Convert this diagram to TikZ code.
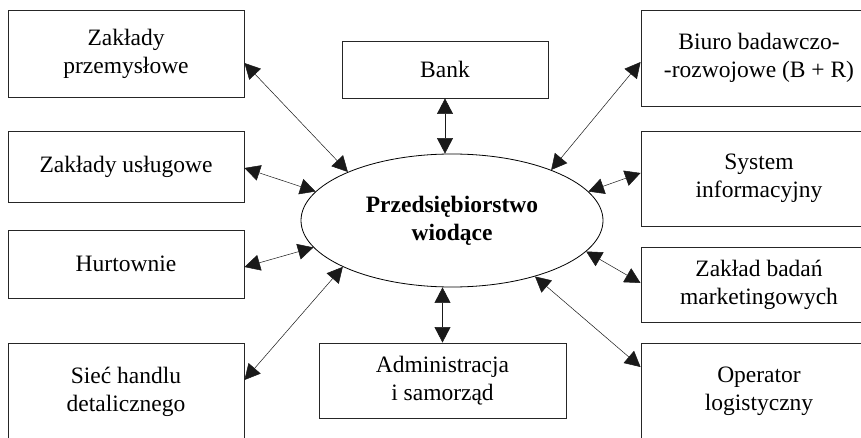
\documentclass[tikz,border=0pt]{standalone}
\usepackage{fontspec}
\setmainfont{Liberation Serif}
\usetikzlibrary{shapes.geometric,arrows.meta,calc}
\begin{document}
\begin{tikzpicture}[x=1pt,y=1pt,
  box/.style={draw=black!85,line width=0.9pt,rectangle,inner sep=0pt,align=center,
    font=\fontsize{23.5}{28}\selectfont},
  hub/.style={draw=black,line width=0.8pt,ellipse,inner sep=0pt,align=center,
    minimum width=302pt,minimum height=133pt,font=\fontsize{23.5}{28}\selectfont\bfseries},
  link/.style={line width=0.5pt,draw=black!90,{Triangle[length=15.5pt,width=16pt]}-{Triangle[length=15.5pt,width=16pt]}}
]
\useasboundingbox (0,0) rectangle (861,437);
\begin{scope}
\clip (0,0) rectangle (861,437);
\node[hub] (ell) at (452,216.5) {Przedsiębiorstwo\\wiodące};
\node[box,minimum width=236pt,minimum height=87pt] (zp) at (126,383.5) {Zakłady\\przemysłowe};
\node[box,minimum width=236pt,minimum height=71pt] (zu) at (126,270.5) {Zakłady usługowe};
\node[box,minimum width=236pt,minimum height=68pt] (hu) at (126,173) {Hurtownie};
\node[box,minimum width=236pt,minimum height=97pt] (sh) at (126,45.5) {Sieć handlu\\detalicznego};
\node[box,minimum width=236pt,minimum height=96pt] (bi) at (759,379) {Biuro badawczo-\\-rozwojowe (B + R)};
\node[box,minimum width=236pt,minimum height=95pt] (si) at (759,258.5) {System\\informacyjny};
\node[box,minimum width=236pt,minimum height=75pt] (zb) at (759,152.5) {Zakład badań\\marketingowych};
\node[box,minimum width=236pt,minimum height=97pt] (op) at (759,45.5) {Operator\\logistyczny};
\node[box,minimum width=206pt,minimum height=57pt] (bank) at (445,367.5) {Bank};
\node[box,minimum width=247pt,minimum height=75pt] (adm) at (442.5,56.5) {Administracja\\i samorząd};

\draw[link] ([yshift=-9.5pt]zp.east) -- (ell.155.1);
\draw[link] ([yshift=-1.5pt]zu.east) -- (ell.168.5);
\draw[link] ([yshift=-3pt]hu.east) -- (ell.191.9);
\draw[link] ([yshift=11.5pt]sh.east) -- (ell.203);
\draw[link] (bank.south) -- (bank.south |- ell.north);
\draw[link] (adm.north) -- (adm.north |- ell.south);
\draw[link] ([yshift=-4pt]bi.west) -- (ell.27.9);
\draw[link] ([yshift=5.5pt]si.west) -- (ell.12.5);
\draw[link] ([yshift=1.5pt]zb.west) -- (ell.-13.7);
\draw[link] ([yshift=24.5pt]op.west) -- (ell.-34);
\end{scope}
\end{tikzpicture}
\end{document}
